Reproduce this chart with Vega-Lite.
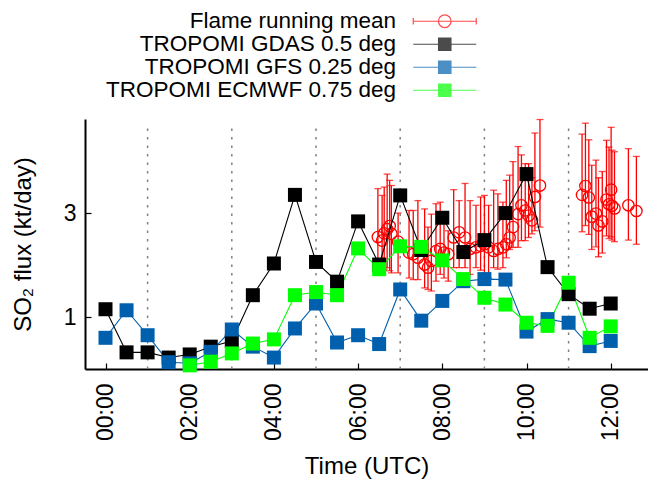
{
  "$schema": "https://vega.github.io/schema/vega-lite/v6.json",
  "width": 563,
  "height": 250,
  "autosize": {"type": "none"},
  "padding": {"left": 85, "top": 119, "right": 0, "bottom": 112},
  "config": {
    "view": {"stroke": null},
    "font": "Liberation Sans",
    "axis": {
      "domainColor": "black", "domainWidth": 2, "tickColor": "black", "tickWidth": 1.2, "tickSize": -6,
      "labelFont": "Liberation Sans", "labelFontSize": 23, "labelColor": "black",
      "titleFont": "Liberation Sans", "titleFontSize": 24, "titleFontWeight": "normal", "titleColor": "black",
      "grid": false
    }
  },
  "datasets": {
    "main": [
      {"s": "Flame running mean", "t": 6.47, "v": 2.54, "lo": 1.89, "hi": 3.47},
      {"s": "Flame running mean", "t": 6.57, "v": 2.47, "lo": 1.82, "hi": 3.34},
      {"s": "Flame running mean", "t": 6.62, "v": 2.61, "lo": 1.92, "hi": 3.5},
      {"s": "Flame running mean", "t": 6.69, "v": 2.69, "lo": 1.95, "hi": 3.75},
      {"s": "Flame running mean", "t": 6.75, "v": 2.75, "lo": 1.89, "hi": 3.63},
      {"s": "Flame running mean", "t": 6.79, "v": 2.6, "lo": 1.85, "hi": 3.53},
      {"s": "Flame running mean", "t": 6.95, "v": 2.45, "lo": 1.85, "hi": 3.0},
      {"s": "Flame running mean", "t": 7.21, "v": 2.24, "lo": 1.75, "hi": 3.05},
      {"s": "Flame running mean", "t": 7.31, "v": 2.21, "lo": 1.72, "hi": 3.05},
      {"s": "Flame running mean", "t": 7.42, "v": 2.14, "lo": 1.72, "hi": 3.24},
      {"s": "Flame running mean", "t": 7.58, "v": 2.01, "lo": 1.56, "hi": 3.08},
      {"s": "Flame running mean", "t": 7.66, "v": 1.95, "lo": 1.53, "hi": 2.73},
      {"s": "Flame running mean", "t": 7.74, "v": 2.08, "lo": 1.5, "hi": 2.98},
      {"s": "Flame running mean", "t": 7.85, "v": 2.27, "lo": 1.69, "hi": 3.18},
      {"s": "Flame running mean", "t": 7.95, "v": 2.31, "lo": 1.82, "hi": 3.21},
      {"s": "Flame running mean", "t": 8.04, "v": 2.24, "lo": 1.75, "hi": 2.86},
      {"s": "Flame running mean", "t": 8.14, "v": 2.21, "lo": 1.69, "hi": 2.66},
      {"s": "Flame running mean", "t": 8.27, "v": 2.53, "lo": 1.95, "hi": 3.45},
      {"s": "Flame running mean", "t": 8.4, "v": 2.63, "lo": 1.95, "hi": 3.24},
      {"s": "Flame running mean", "t": 8.54, "v": 2.53, "lo": 1.95, "hi": 3.57},
      {"s": "Flame running mean", "t": 8.66, "v": 2.31, "lo": 1.82, "hi": 3.24},
      {"s": "Flame running mean", "t": 8.8, "v": 2.34, "lo": 1.95, "hi": 3.15},
      {"s": "Flame running mean", "t": 8.91, "v": 2.37, "lo": 1.9, "hi": 3.31},
      {"s": "Flame running mean", "t": 9.0, "v": 2.4, "lo": 1.82, "hi": 3.34},
      {"s": "Flame running mean", "t": 9.1, "v": 2.34, "lo": 1.75, "hi": 3.15},
      {"s": "Flame running mean", "t": 9.22, "v": 2.27, "lo": 1.95, "hi": 3.44},
      {"s": "Flame running mean", "t": 9.32, "v": 2.31, "lo": 1.92, "hi": 3.37},
      {"s": "Flame running mean", "t": 9.44, "v": 2.34, "lo": 1.95, "hi": 3.21},
      {"s": "Flame running mean", "t": 9.52, "v": 2.4, "lo": 2.14, "hi": 3.63},
      {"s": "Flame running mean", "t": 9.6, "v": 2.53, "lo": 2.3, "hi": 3.73},
      {"s": "Flame running mean", "t": 9.68, "v": 2.73, "lo": 2.34, "hi": 3.99},
      {"s": "Flame running mean", "t": 9.8, "v": 2.98, "lo": 2.34, "hi": 4.28},
      {"s": "Flame running mean", "t": 9.88, "v": 3.15, "lo": 2.47, "hi": 4.12},
      {"s": "Flame running mean", "t": 9.97, "v": 3.05, "lo": 2.47, "hi": 3.95},
      {"s": "Flame running mean", "t": 10.05, "v": 2.95, "lo": 2.53, "hi": 3.95},
      {"s": "Flame running mean", "t": 10.13, "v": 2.86, "lo": 2.6, "hi": 3.68},
      {"s": "Flame running mean", "t": 10.2, "v": 3.31, "lo": 2.66, "hi": 4.54},
      {"s": "Flame running mean", "t": 10.32, "v": 3.53, "lo": 2.73, "hi": 4.8},
      {"s": "Flame running mean", "t": 11.32, "v": 3.35, "lo": 2.64, "hi": 4.52},
      {"s": "Flame running mean", "t": 11.4, "v": 3.52, "lo": 2.76, "hi": 4.73},
      {"s": "Flame running mean", "t": 11.48, "v": 3.3, "lo": 2.59, "hi": 4.41},
      {"s": "Flame running mean", "t": 11.55, "v": 2.93, "lo": 2.3, "hi": 3.92},
      {"s": "Flame running mean", "t": 11.65, "v": 2.99, "lo": 2.35, "hi": 4.02},
      {"s": "Flame running mean", "t": 11.71, "v": 2.76, "lo": 2.16, "hi": 3.68},
      {"s": "Flame running mean", "t": 11.8, "v": 2.84, "lo": 2.23, "hi": 3.8},
      {"s": "Flame running mean", "t": 11.9, "v": 3.26, "lo": 2.56, "hi": 4.4},
      {"s": "Flame running mean", "t": 11.96, "v": 3.17, "lo": 2.51, "hi": 4.27},
      {"s": "Flame running mean", "t": 12.01, "v": 3.45, "lo": 2.54, "hi": 4.65},
      {"s": "Flame running mean", "t": 12.03, "v": 3.14, "lo": 2.48, "hi": 4.21},
      {"s": "Flame running mean", "t": 12.09, "v": 3.09, "lo": 2.45, "hi": 4.18},
      {"s": "Flame running mean", "t": 12.42, "v": 3.15, "lo": 2.48, "hi": 4.24},
      {"s": "Flame running mean", "t": 12.61, "v": 3.04, "lo": 2.4, "hi": 4.09},
      {"s": "TROPOMI GDAS 0.5 deg", "t": 0, "v": 1.15},
      {"s": "TROPOMI GDAS 0.5 deg", "t": 0.5, "v": 0.32},
      {"s": "TROPOMI GDAS 0.5 deg", "t": 1, "v": 0.32},
      {"s": "TROPOMI GDAS 0.5 deg", "t": 1.5, "v": 0.22},
      {"s": "TROPOMI GDAS 0.5 deg", "t": 2, "v": 0.28},
      {"s": "TROPOMI GDAS 0.5 deg", "t": 2.5, "v": 0.43},
      {"s": "TROPOMI GDAS 0.5 deg", "t": 3, "v": 0.54},
      {"s": "TROPOMI GDAS 0.5 deg", "t": 3.5, "v": 1.42},
      {"s": "TROPOMI GDAS 0.5 deg", "t": 4, "v": 2.03},
      {"s": "TROPOMI GDAS 0.5 deg", "t": 4.5, "v": 3.35},
      {"s": "TROPOMI GDAS 0.5 deg", "t": 5, "v": 2.06},
      {"s": "TROPOMI GDAS 0.5 deg", "t": 5.5, "v": 1.68},
      {"s": "TROPOMI GDAS 0.5 deg", "t": 6, "v": 2.84},
      {"s": "TROPOMI GDAS 0.5 deg", "t": 6.5, "v": 2.01},
      {"s": "TROPOMI GDAS 0.5 deg", "t": 7, "v": 3.34},
      {"s": "TROPOMI GDAS 0.5 deg", "t": 7.5, "v": 2.29},
      {"s": "TROPOMI GDAS 0.5 deg", "t": 8, "v": 2.91},
      {"s": "TROPOMI GDAS 0.5 deg", "t": 8.5, "v": 2.25},
      {"s": "TROPOMI GDAS 0.5 deg", "t": 9, "v": 2.48},
      {"s": "TROPOMI GDAS 0.5 deg", "t": 9.5, "v": 3.0},
      {"s": "TROPOMI GDAS 0.5 deg", "t": 10, "v": 3.75},
      {"s": "TROPOMI GDAS 0.5 deg", "t": 10.5, "v": 1.96},
      {"s": "TROPOMI GDAS 0.5 deg", "t": 11, "v": 1.44},
      {"s": "TROPOMI GDAS 0.5 deg", "t": 11.5, "v": 1.16},
      {"s": "TROPOMI GDAS 0.5 deg", "t": 12, "v": 1.26},
      {"s": "TROPOMI GFS 0.25 deg", "t": 0, "v": 0.6},
      {"s": "TROPOMI GFS 0.25 deg", "t": 0.5, "v": 1.13},
      {"s": "TROPOMI GFS 0.25 deg", "t": 1, "v": 0.65},
      {"s": "TROPOMI GFS 0.25 deg", "t": 1.5, "v": 0.13},
      {"s": "TROPOMI GFS 0.25 deg", "t": 2, "v": 0.11},
      {"s": "TROPOMI GFS 0.25 deg", "t": 2.5, "v": 0.33},
      {"s": "TROPOMI GFS 0.25 deg", "t": 3, "v": 0.76},
      {"s": "TROPOMI GFS 0.25 deg", "t": 3.5, "v": 0.43},
      {"s": "TROPOMI GFS 0.25 deg", "t": 4, "v": 0.22},
      {"s": "TROPOMI GFS 0.25 deg", "t": 4.5, "v": 0.78},
      {"s": "TROPOMI GFS 0.25 deg", "t": 5, "v": 1.26},
      {"s": "TROPOMI GFS 0.25 deg", "t": 5.5, "v": 0.51},
      {"s": "TROPOMI GFS 0.25 deg", "t": 6, "v": 0.65},
      {"s": "TROPOMI GFS 0.25 deg", "t": 6.5, "v": 0.48},
      {"s": "TROPOMI GFS 0.25 deg", "t": 7, "v": 1.53},
      {"s": "TROPOMI GFS 0.25 deg", "t": 7.5, "v": 0.93},
      {"s": "TROPOMI GFS 0.25 deg", "t": 8, "v": 1.31},
      {"s": "TROPOMI GFS 0.25 deg", "t": 8.5, "v": 1.69},
      {"s": "TROPOMI GFS 0.25 deg", "t": 9, "v": 1.73},
      {"s": "TROPOMI GFS 0.25 deg", "t": 9.5, "v": 1.72},
      {"s": "TROPOMI GFS 0.25 deg", "t": 10, "v": 0.72},
      {"s": "TROPOMI GFS 0.25 deg", "t": 10.5, "v": 0.96},
      {"s": "TROPOMI GFS 0.25 deg", "t": 11, "v": 0.89},
      {"s": "TROPOMI GFS 0.25 deg", "t": 11.5, "v": 0.44},
      {"s": "TROPOMI GFS 0.25 deg", "t": 12, "v": 0.54},
      {"s": "TROPOMI ECMWF 0.75 deg", "t": 2, "v": 0.07},
      {"s": "TROPOMI ECMWF 0.75 deg", "t": 2.5, "v": 0.14},
      {"s": "TROPOMI ECMWF 0.75 deg", "t": 3, "v": 0.3},
      {"s": "TROPOMI ECMWF 0.75 deg", "t": 3.5, "v": 0.49},
      {"s": "TROPOMI ECMWF 0.75 deg", "t": 4, "v": 0.57},
      {"s": "TROPOMI ECMWF 0.75 deg", "t": 4.5, "v": 1.42},
      {"s": "TROPOMI ECMWF 0.75 deg", "t": 5, "v": 1.48},
      {"s": "TROPOMI ECMWF 0.75 deg", "t": 5.5, "v": 1.42},
      {"s": "TROPOMI ECMWF 0.75 deg", "t": 6, "v": 2.32},
      {"s": "TROPOMI ECMWF 0.75 deg", "t": 6.5, "v": 1.92},
      {"s": "TROPOMI ECMWF 0.75 deg", "t": 7, "v": 2.36},
      {"s": "TROPOMI ECMWF 0.75 deg", "t": 7.5, "v": 2.35},
      {"s": "TROPOMI ECMWF 0.75 deg", "t": 8, "v": 2.09},
      {"s": "TROPOMI ECMWF 0.75 deg", "t": 8.5, "v": 1.73},
      {"s": "TROPOMI ECMWF 0.75 deg", "t": 9, "v": 1.37},
      {"s": "TROPOMI ECMWF 0.75 deg", "t": 9.5, "v": 1.24},
      {"s": "TROPOMI ECMWF 0.75 deg", "t": 10, "v": 0.89},
      {"s": "TROPOMI ECMWF 0.75 deg", "t": 10.5, "v": 0.83},
      {"s": "TROPOMI ECMWF 0.75 deg", "t": 11, "v": 1.66},
      {"s": "TROPOMI ECMWF 0.75 deg", "t": 11.5, "v": 0.6},
      {"s": "TROPOMI ECMWF 0.75 deg", "t": 12, "v": 0.82}
    ],
    "dividers": [{"t": 1}, {"t": 3}, {"t": 5}, {"t": 7}, {"t": 9}, {"t": 11}]
  },
  "data": {"name": "main"},
  "encoding": {
    "x": {
      "field": "t", "type": "quantitative", "title": "Time (UTC)",
      "scale": {"domain": [-0.487, 12.886], "nice": false, "zero": false},
      "axis": {"values": [0, 2, 4, 6, 8, 10, 12], "labelAngle": -90, "labelPadding": 20, "titlePadding": 14,
               "labelExpr": "(datum.value < 10 ? '0' : '') + datum.value + ':00'"}
    }
  },
  "layer": [
    {
      "data": {"name": "dividers"},
      "mark": {"type": "rule", "color": "#808080", "strokeWidth": 1.5, "strokeDash": [2.5, 6]},
      "encoding": {
        "y": {"datum": 0, "type": "quantitative", "title": "SO₂ flux (kt/day)", "scale": {"domain": [0, 4.81], "nice": false},
              "axis": {"values": [1, 3], "labelPadding": 15, "titlePadding": 28}},
        "y2": {"datum": 4.7}
      }
    },
    {
      "transform": [{"filter": "datum.s === 'Flame running mean'"}],
      "mark": {"type": "errorbar", "ticks": true, "thickness": 1.3, "size": 7},
      "encoding": {
        "y": {"field": "lo", "type": "quantitative", "title": "SO₂ flux (kt/day)", "scale": {"domain": [0, 4.81], "nice": false},
              "axis": {"values": [1, 3], "labelPadding": 15, "titlePadding": 28}},
        "y2": {"field": "hi"},
        "color": {"field": "s", "type": "nominal",
                  "scale": {"domain": ["Flame running mean", "TROPOMI GDAS 0.5 deg", "TROPOMI GFS 0.25 deg", "TROPOMI ECMWF 0.75 deg"],
                            "range": ["#ff0000", "#000000", "#0060ad", "#00ff00"]}}
      }
    },
    {
      "transform": [{"filter": "datum.s === 'Flame running mean'"}],
      "mark": {"type": "point", "shape": "circle", "filled": false, "size": 130, "strokeWidth": 1.3, "opacity": 1},
      "encoding": {
        "y": {"field": "v", "type": "quantitative", "title": "SO₂ flux (kt/day)", "scale": {"domain": [0, 4.81], "nice": false},
              "axis": {"values": [1, 3], "labelPadding": 15, "titlePadding": 28}},
        "color": {"field": "s", "type": "nominal",
                  "scale": {"domain": ["Flame running mean", "TROPOMI GDAS 0.5 deg", "TROPOMI GFS 0.25 deg", "TROPOMI ECMWF 0.75 deg"],
                            "range": ["#ff0000", "#000000", "#0060ad", "#00ff00"]}}
      }
    },
    {
      "transform": [{"filter": "datum.s !== 'Flame running mean'"}],
      "mark": {"type": "line", "strokeWidth": 1.1},
      "encoding": {
        "y": {"field": "v", "type": "quantitative", "title": "SO₂ flux (kt/day)", "scale": {"domain": [0, 4.81], "nice": false},
              "axis": {"values": [1, 3], "labelPadding": 15, "titlePadding": 28}},
        "color": {"field": "s", "type": "nominal",
                  "scale": {"domain": ["Flame running mean", "TROPOMI GDAS 0.5 deg", "TROPOMI GFS 0.25 deg", "TROPOMI ECMWF 0.75 deg"],
                            "range": ["#ff0000", "#000000", "#0060ad", "#00ff00"]}}
      }
    },
    {
      "transform": [{"filter": "datum.s !== 'Flame running mean'"}],
      "mark": {"type": "point", "shape": "square", "filled": true, "size": 196, "opacity": 1},
      "encoding": {
        "y": {"field": "v", "type": "quantitative", "title": "SO₂ flux (kt/day)", "scale": {"domain": [0, 4.81], "nice": false},
              "axis": {"values": [1, 3], "labelPadding": 15, "titlePadding": 28}},
        "color": {"field": "s", "type": "nominal",
                  "scale": {"domain": ["Flame running mean", "TROPOMI GDAS 0.5 deg", "TROPOMI GFS 0.25 deg", "TROPOMI ECMWF 0.75 deg"],
                            "range": ["#ff0000", "#000000", "#0060ad", "#00ff00"]}}
      }
    },
    {
      "transform": [{"filter": "false"}],
      "mark": {"type": "point", "filled": true, "opacity": 1, "size": 400, "strokeWidth": 1.2},
      "encoding": {
        "y": {"field": "v", "type": "quantitative", "title": "SO₂ flux (kt/day)", "scale": {"domain": [0, 4.81], "nice": false},
              "axis": {"values": [1, 3], "labelPadding": 15, "titlePadding": 28}},
        "color": {"field": "s", "type": "nominal",
                  "scale": {"domain": ["Flame running mean", "TROPOMI GDAS 0.5 deg", "TROPOMI GFS 0.25 deg", "TROPOMI ECMWF 0.75 deg"],
                            "range": ["#ff0000", "#000000", "#0060ad", "#00ff00"]},
                  "legend": {
                    "orient": "none", "legendX": 330, "legendY": -109, "title": null, "padding": 0,
                    "symbolSize": 400, "symbolStrokeWidth": 1.2, "symbolOffset": 18.5, "symbolOpacity": 1,
                    "labelFont": "Liberation Sans", "labelFontSize": 22.5, "labelColor": "black",
                    "labelAlign": "right", "labelOffset": -60, "rowPadding": 0, "labelLimit": 0
                  }},
        "stroke": {"field": "s", "type": "nominal",
                   "scale": {"domain": ["Flame running mean", "TROPOMI GDAS 0.5 deg", "TROPOMI GFS 0.25 deg", "TROPOMI ECMWF 0.75 deg"],
                             "range": ["#ff0000", "#000000", "#0060ad", "#00ff00"]},
                   "legend": {"title": null}},
        "shape": {"field": "s", "type": "nominal",
                  "scale": {"domain": ["Flame running mean", "TROPOMI GDAS 0.5 deg", "TROPOMI GFS 0.25 deg", "TROPOMI ECMWF 0.75 deg"],
                            "range": ["M-3.15,0H3.15M-3.15,-0.33V0.33M3.15,-0.33V0.33M0.63,0A0.63,0.63,0,1,1,-0.63,0A0.63,0.63,0,1,1,0.63,0ZM0.63,0A0.63,0.63,0,1,0,-0.63,0A0.63,0.63,0,1,0,0.63,0Z",
                                      "M-3.15,0H3.15M-0.62,-0.62H0.62V0.62H-0.62Z",
                                      "M-3.15,0H3.15M-0.62,-0.62H0.62V0.62H-0.62Z",
                                      "M-3.15,0H3.15M-0.62,-0.62H0.62V0.62H-0.62Z"]},
                  "legend": {"title": null}}
      }
    }
  ]
}
